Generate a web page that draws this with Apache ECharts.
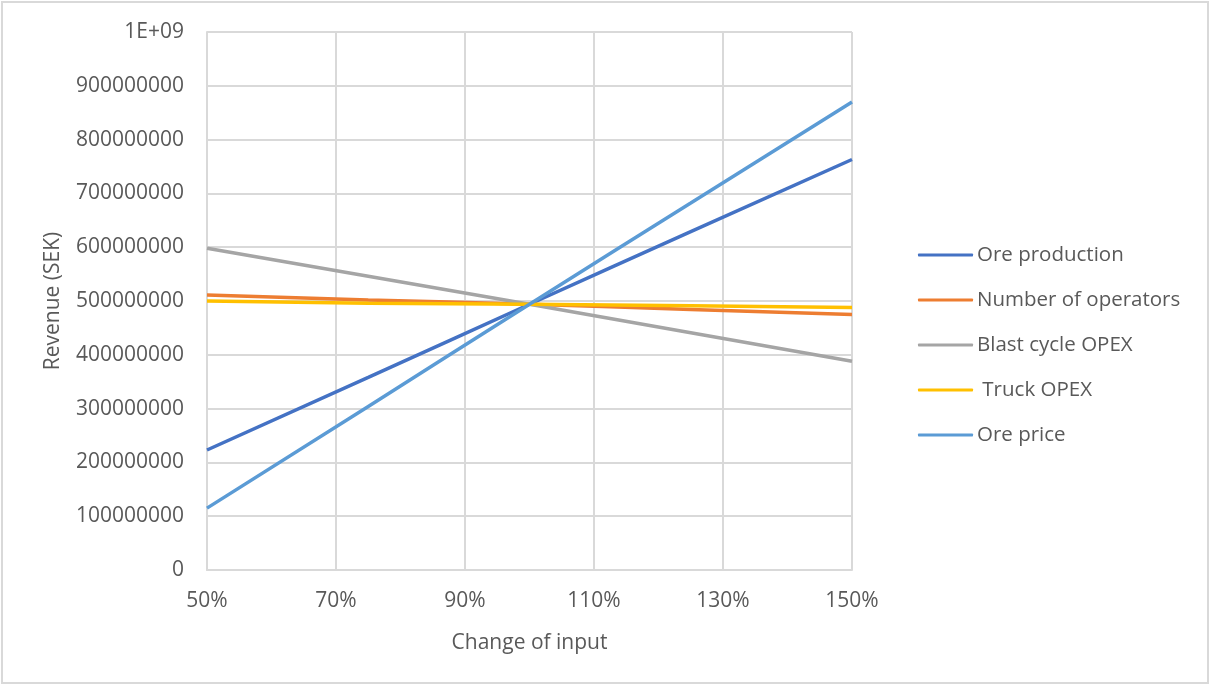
<!DOCTYPE html>
<html>
<head>
<meta charset="utf-8">
<title>Revenue sensitivity</title>
<script src="https://cdn.jsdelivr.net/npm/echarts@6/dist/echarts.min.js"></script>
<style>
  html, body { margin: 0; padding: 0; background: #fff; }
  #chart { width: 1212px; height: 686px; }
</style>
</head>
<body>
<div id="chart"></div>
<script>
// change of input (%)
const inputChange = [50, 75, 100, 125, 150];

// revenue (SEK)
const oreProduction = [223e6, 358e6, 494e6, 629e6, 763e6];
const numberOfOperators = [511e6, 502e6, 494e6, 484e6, 475e6];
const blastCycleOpex = [598e6, 546e6, 494e6, 441e6, 388e6];
const truckOpex = [500e6, 496e6, 494e6, 491e6, 488e6];
const orePrice = [115e6, 304e6, 494e6, 682e6, 870e6];

const seriesNames = ['Ore production', 'Number of operators', 'Blast cycle OPEX', ' Truck OPEX', 'Ore price'];
const seriesColors = ['#4472C4', '#ED7D31', '#A5A5A5', '#FFC000', '#5B9BD5'];
const seriesValues = [oreProduction, numberOfOperators, blastCycleOpex, truckOpex, orePrice];

const chart = echarts.init(document.getElementById('chart'));

const font = '"Open Sans", "Noto Sans", sans-serif';
const gridColor = '#d9d9d9';
const textColor = '#595959';

const option = {
  backgroundColor: '#fff',
  animation: false,
  graphic: [{
    type: 'rect',
    shape: { x: 2, y: 2, width: 1206, height: 681 },
    style: { fill: 'none', stroke: '#d9d9d9', lineWidth: 2 },
    silent: true
  }],
  grid: {
    left: 207,
    right: 360,
    top: 32,
    bottom: 116
  },
  legend: {
    orient: 'vertical',
    left: 913,
    top: 238,
    icon: 'roundRect',
    itemWidth: 55,
    itemHeight: 3,
    itemGap: 21,
    textStyle: {
      color: textColor,
      fontFamily: font,
      fontSize: 20.5,
      lineHeight: 24,
      padding: [0, 0, 0, -1]
    },
    data: seriesNames
  },
  xAxis: {
    type: 'value',
    min: 50,
    max: 150,
    interval: 20,
    name: 'Change of input',
    nameLocation: 'middle',
    nameGap: 63,
    nameTextStyle: { color: textColor, fontFamily: font, fontSize: 21 },
    axisLine: { show: true, lineStyle: { color: gridColor, width: 2 } },
    axisTick: { show: false },
    axisLabel: {
      color: textColor,
      fontFamily: font,
      fontSize: 21,
      margin: 21,
      formatter: v => v + '%'
    },
    splitLine: { show: true, lineStyle: { color: gridColor, width: 2 } }
  },
  yAxis: {
    type: 'value',
    min: 0,
    max: 1e9,
    interval: 1e8,
    name: 'Revenue (SEK)',
    nameLocation: 'middle',
    nameRotate: 90,
    nameGap: 143,
    nameTextStyle: { color: textColor, fontFamily: font, fontSize: 21 },
    axisLine: { show: true, lineStyle: { color: gridColor, width: 2 } },
    axisTick: { show: false },
    axisLabel: {
      color: textColor,
      fontFamily: font,
      fontSize: 21,
      margin: 23,
      formatter: v => v === 1e9 ? '1E+09' : String(v)
    },
    splitLine: { show: true, lineStyle: { color: gridColor, width: 2 } }
  },
  series: seriesNames.map((name, i) => ({
    name: name,
    type: 'line',
    smooth: true,
    symbol: 'none',
    color: seriesColors[i],
    lineStyle: { width: 3.5, color: seriesColors[i] },
    data: inputChange.map((x, j) => [x, seriesValues[i][j]])
  }))
};

chart.setOption(option);
</script>
</body>
</html>
